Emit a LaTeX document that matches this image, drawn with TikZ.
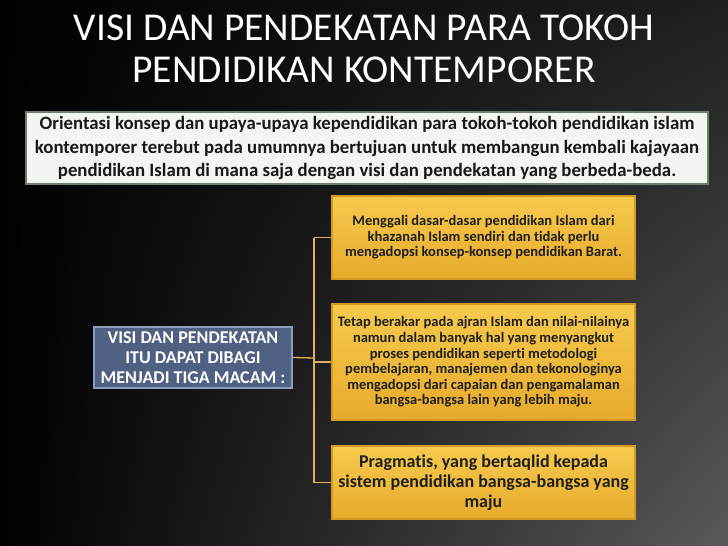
\documentclass[tikz,border=0pt]{standalone}
\usepackage{fontspec}
\setmainfont{Carlito}[Ligatures=NoCommon]
\usepackage{tikz}
\usetikzlibrary{positioning,shadings}

\definecolor{goldtop}{HTML}{F6CA4E}
\definecolor{goldbot}{HTML}{E7AB2C}
\definecolor{goldline}{HTML}{D39A22}
\definecolor{slatefill}{HTML}{4F6082}
\definecolor{slateline}{HTML}{8E9DBE}
\definecolor{notefill}{HTML}{F2F5F0}
\definecolor{noteline}{HTML}{6F7E6B}
\definecolor{linkcol}{HTML}{DDB064}

\tikzset{
  goldbox/.style={draw=goldline, line width=1.2pt, top color=goldtop,
    bottom color=goldbot, text width=#1, align=flush center, inner sep=0pt,
    minimum width=303pt, text=black!88,
    font=\bfseries\fontsize{14.5}{15.6}\selectfont},
  slatebox/.style={draw=slateline, line width=1.5pt, fill=slatefill,
    text=white, align=flush center, text width=198pt, inner sep=0pt,
    minimum height=61pt, font=\bfseries\fontsize{18}{20}\selectfont},
  link/.style={draw=linkcol, line width=1.3pt}
}

\begin{document}
\begin{tikzpicture}[x=1pt,y=-1pt]
\useasboundingbox (0,0) rectangle (728,546);
\shade[upper left=black, upper right=black!88!white, lower left=black,
  lower right=black!65!white] (0,0) rectangle (728,546);

\node[text=white, align=center, font=\fontsize{39.5}{42}\selectfont]
  (title) at (364,49) {VISI DAN PENDEKATAN PARA TOKOH\\PENDIDIKAN KONTEMPORER};

\node[draw=noteline, line width=2pt, fill=notefill, minimum width=682pt,
  minimum height=72pt, inner sep=0pt, align=center, text=black!90,
  font=\bfseries\fontsize{18.8}{23.5}\selectfont] (note) at (367,148)
  {Orientasi konsep dan upaya-upaya kependidikan para tokoh-tokoh pendidikan islam\\
   kontemporer terebut pada umumnya bertujuan untuk membangun kembali kajayaan\\
   pendidikan Islam di mana saja dengan visi dan pendekatan yang berbeda-beda.};

\node[slatebox] (macam) at (193,357.5)
  {VISI DAN PENDEKATAN\\ITU DAPAT DIBAGI\\MENJADI TIGA MACAM :};

\node[goldbox=301pt, minimum height=83pt] (gali) at (483.5,237.5)
  {Menggali dasar-dasar pendidikan Islam dari\\khazanah Islam sendiri dan tidak perlu\\
   mengadopsi konsep-konsep pendidikan Barat.};
\node[goldbox=301pt, minimum height=116pt] (akar) at (483.5,362)
  {Tetap berakar pada ajran Islam dan nilai-nilainya\\namun dalam banyak hal yang menyangkut\\
   proses pendidikan seperti metodologi\\pembelajaran, manajemen dan tekonologinya\\
   mengadopsi dari capaian dan pengamalaman\\bangsa-bangsa lain yang lebih maju.};
\node[goldbox=301pt, minimum height=73pt,
  font=\bfseries\fontsize{18}{20}\selectfont] (taqlid) at (483.5,482.5)
  {Pragmatis, yang bertaqlid kepada\\sistem pendidikan bangsa-bangsa yang\\maju};

% connectors
\coordinate (fork) at (314,358);
\draw[link] (macam.east) -- (fork);
\draw[link] (fork |- gali.west) -- (fork |- taqlid.west);
\draw[link] (fork |- gali.west) -- (gali.west);
\draw[link] (fork |- akar.west) -- (akar.west);
\draw[link] (fork |- taqlid.west) -- (taqlid.west);
\end{tikzpicture}
\end{document}
